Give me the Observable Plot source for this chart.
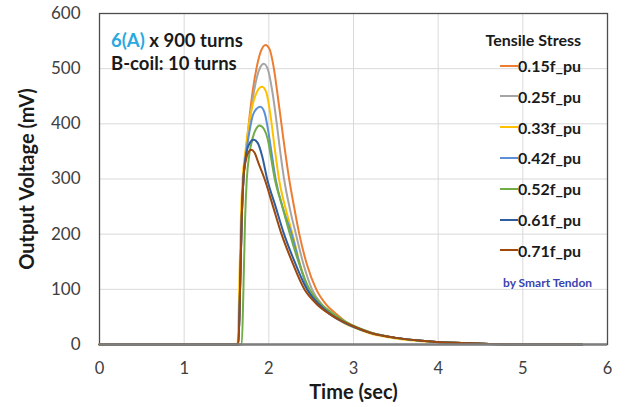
<!DOCTYPE html>
<html>
<head>
<meta charset="utf-8">
<script src="https://cdn.jsdelivr.net/npm/d3@7"></script>
<script src="https://cdn.jsdelivr.net/npm/@observablehq/plot@0.6"></script>
<style>
  html, body { margin: 0; padding: 0; background: #fff; }
  #wrap { position: relative; width: 628px; height: 407px; font-family: Lato, "Open Sans", sans-serif; }
  #wrap svg { position: absolute; left: 0; top: 0; }
  .note { position: absolute; font-weight: bold; color: #1a1a1a; white-space: nowrap; }
  .legend { position: absolute; font-weight: bold; color: #1a1a1a; }
  .legend .row { position: absolute; right: 0; display: flex; align-items: center; white-space: nowrap; }
  .legend .sw { width: 18px; height: 2px; margin-right: 0px; }
</style>
</head>
<body>
<div id="wrap"></div>
<script>
// ---- data ----
const seriesLabels = ["0.15f_pu", "0.25f_pu", "0.33f_pu", "0.42f_pu", "0.52f_pu", "0.61f_pu", "0.71f_pu"];
const seriesColors = ["#ED7D31", "#A5A5A5", "#FFC000", "#5B8FD6", "#70AD47", "#2F5E9E", "#9E480E"];
const xTicks = [0, 1, 2, 3, 4, 5, 6];
const yTicks = [0, 100, 200, 300, 400, 500, 600];

const t015 = [0, 1.64, 1.66, 1.68, 1.70, 1.73, 1.77, 1.81, 1.86, 1.91, 1.96, 2.01, 2.06, 2.11, 2.17, 2.24, 2.30, 2.36, 2.45, 2.56, 2.68, 2.80, 2.90, 3.0, 3.2, 3.5, 3.8, 4.2, 4.6, 5.0, 5.7];
const v015 = [0, 0, 100, 230, 300, 350, 410, 460, 505, 533, 543, 535, 500, 445, 375, 300, 248, 200, 145, 100, 72, 55, 42, 33, 22, 12, 7, 3, 1, 0, 0];

const t025 = [0, 1.64, 1.66, 1.68, 1.70, 1.73, 1.77, 1.81, 1.86, 1.90, 1.94, 1.99, 2.04, 2.09, 2.13, 2.18, 2.25, 2.32, 2.41, 2.51, 2.63, 2.77, 2.90, 3.0, 3.2, 3.5, 3.8, 4.2, 4.6, 5.0, 5.7];
const v025 = [0, 0, 100, 230, 300, 345, 400, 445, 485, 503, 509, 498, 460, 405, 355, 300, 245, 200, 145, 100, 72, 53, 40, 33, 22, 12, 7, 3, 1, 0, 0];

const t033 = [0, 1.63, 1.65, 1.67, 1.69, 1.72, 1.76, 1.81, 1.86, 1.92, 1.97, 2.02, 2.07, 2.12, 2.20, 2.28, 2.37, 2.47, 2.60, 2.75, 2.90, 3.0, 3.2, 3.5, 3.8, 4.2, 4.6, 5.0, 5.7];
const v033 = [0, 0, 100, 230, 300, 345, 395, 435, 458, 467, 457, 415, 355, 300, 245, 200, 145, 100, 72, 52, 38, 31, 20, 11, 6, 3, 1, 0, 0];

const t042 = [0, 1.64, 1.66, 1.68, 1.70, 1.73, 1.77, 1.81, 1.86, 1.90, 1.95, 1.99, 2.03, 2.08, 2.17, 2.27, 2.36, 2.46, 2.58, 2.72, 2.88, 3.0, 3.2, 3.5, 3.8, 4.2, 4.6, 5.0, 5.7];
const v042 = [0, 0, 100, 230, 300, 345, 385, 415, 428, 431, 420, 390, 350, 300, 245, 200, 148, 100, 74, 55, 40, 32, 21, 12, 7, 3, 1, 0, 0];

const t052 = [0, 1.68, 1.70, 1.72, 1.74, 1.77, 1.81, 1.85, 1.89, 1.94, 1.99, 2.03, 2.07, 2.15, 2.24, 2.35, 2.48, 2.60, 2.74, 2.90, 3.0, 3.2, 3.5, 3.8, 4.2, 4.6, 5.0, 5.7];
const v052 = [0, 0, 100, 230, 300, 345, 375, 391, 397, 391, 370, 335, 300, 255, 205, 150, 100, 76, 58, 42, 34, 22, 12, 7, 3, 1, 0, 0];

const t061 = [0, 1.64, 1.66, 1.68, 1.70, 1.73, 1.77, 1.82, 1.87, 1.92, 1.98, 2.08, 2.18, 2.31, 2.45, 2.58, 2.72, 2.88, 3.0, 3.2, 3.5, 3.8, 4.2, 4.6, 5.0, 5.7];
const v061 = [0, 0, 100, 230, 300, 343, 364, 371, 365, 342, 300, 250, 200, 148, 100, 75, 56, 41, 32, 21, 12, 7, 3, 1, 0, 0];

const t071 = [0, 1.64, 1.66, 1.68, 1.70, 1.73, 1.76, 1.79, 1.83, 1.88, 1.95, 2.05, 2.15, 2.28, 2.42, 2.56, 2.72, 2.88, 3.0, 3.2, 3.5, 3.8, 4.2, 4.6, 5.0, 5.7];
const v071 = [0, 0, 100, 230, 300, 335, 349, 353, 348, 328, 300, 250, 200, 148, 100, 74, 55, 41, 33, 21, 12, 7, 3, 1, 0, 0];

const seriesT = [t015, t025, t033, t042, t052, t061, t071];
const seriesV = [v015, v025, v033, v042, v052, v061, v071];

// build table
const rows = [];
seriesLabels.forEach((lab, i) => {
  seriesT[i].forEach((t, j) => rows.push({series: lab, t, v: seriesV[i][j]}));
});

const lineMarks = seriesLabels.map((lab, i) =>
  Plot.line(rows.filter(d => d.series === lab), {
    x: "t", y: "v", stroke: seriesColors[i], strokeWidth: 2, curve: "monotone-x"
  })
);

const chart = Plot.plot({
  width: 628,
  height: 407,
  marginLeft: 99,
  marginRight: 21,
  marginTop: 13,
  marginBottom: 63,
  style: { fontFamily: "Lato, 'Open Sans', sans-serif", background: "#fff", overflow: "visible" },
  x: { domain: [0, 6] },
  y: { domain: [0, 600] },
  marks: [
    Plot.gridX(xTicks, { stroke: "#d9d9d9", strokeOpacity: 1 }),
    Plot.gridY(yTicks, { stroke: "#d9d9d9", strokeOpacity: 1 }),
    ...lineMarks,
    Plot.frame({ stroke: "#4d4d4d", strokeWidth: 1.3 }),
    Plot.ruleY([0], { stroke: "#7f7f7f", strokeWidth: 2.5 }),
    Plot.axisX(xTicks, { tickSize: 0, tickPadding: 18, fontSize: 16.5, fill: "#404040", label: null }),
    Plot.axisY(yTicks, { tickSize: 0, tickPadding: 19, fontSize: 17, fill: "#404040", label: null }),
    Plot.text(["Time (sec)"], { frameAnchor: "bottom", dy: 54, fontSize: 20, fontWeight: "bold", fill: "#1a1a1a" }),
    Plot.text(["Output Voltage (mV)"], { frameAnchor: "left", textAnchor: "middle", dx: -72, rotate: -90, fontSize: 20, fontWeight: "bold", fill: "#1a1a1a" })
  ]
});

const wrap = document.getElementById("wrap");
wrap.appendChild(chart);

// annotations
const n1 = document.createElement("div");
n1.className = "note";
n1.style.cssText += "left:111px;top:29px;font-size:18.5px;";
n1.innerHTML = '<span style="color:#2AA8E0">6(A)</span> x 900 turns';
wrap.appendChild(n1);
const n2 = document.createElement("div");
n2.className = "note";
n2.style.cssText += "left:111px;top:52px;font-size:18.5px;";
n2.textContent = "B-coil: 10 turns";
wrap.appendChild(n2);

// legend
const leg = document.createElement("div");
leg.className = "legend";
leg.style.cssText = "position:absolute;right:47px;top:0;width:140px;height:300px;";
const title = document.createElement("div");
title.className = "row";
title.style.cssText = "top:30px;font-size:16px;";
title.textContent = "Tensile Stress";
leg.appendChild(title);
seriesLabels.forEach((lab, i) => {
  const r = document.createElement("div");
  r.className = "row";
  r.style.cssText = `top:${56 + i * 30.8}px;font-size:16px;`;
  r.innerHTML = `<span class="sw" style="background:${seriesColors[i]}"></span><span>${lab}</span>`;
  leg.appendChild(r);
});
wrap.appendChild(leg);
const credit = document.createElement("div");
credit.className = "note";
credit.style.cssText += "left:503px;top:275px;font-size:12px;color:#3A44B0;";
credit.textContent = "by Smart Tendon";
wrap.appendChild(credit);
</script>
</body>
</html>
